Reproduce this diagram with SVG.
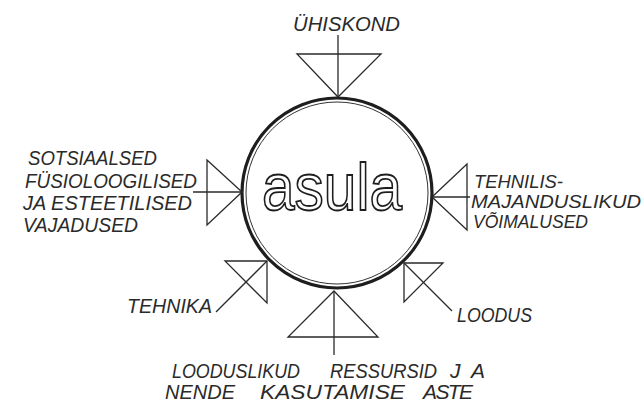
<svg xmlns="http://www.w3.org/2000/svg" width="644" height="403" viewBox="0 0 644 403">
<style>
.ln{fill:none;stroke:#2a2a2a;stroke-width:1.3;stroke-linejoin:miter}
.lbl{font-family:"Liberation Sans",Arial,sans-serif;font-style:italic;font-size:21px;fill:#2a2a2a}
.rt{font-size:19px}
.big{font-family:"Liberation Sans",Arial,sans-serif;font-size:67px;fill:#fff;stroke:#1e1e1e;stroke-width:1.8}
</style>
<rect width="644" height="403" fill="#fff"/>
<g id="asula">
<circle cx="337" cy="193" r="95" fill="#fff" stroke="#1e1e1e" stroke-width="3.2"/>
<circle cx="337" cy="193" r="91" fill="none" stroke="#333" stroke-width="1"/>
<text class="big" x="262" y="210" textLength="140" lengthAdjust="spacingAndGlyphs">asula</text>
</g>
<g id="connectors">
<line class="ln" x1="338" y1="35" x2="338" y2="97"/>
<line class="ln" x1="193" y1="192" x2="242" y2="192"/>
<line class="ln" x1="432" y1="197" x2="470" y2="197"/>
<line class="ln" x1="334" y1="291" x2="334" y2="355"/>
<line class="ln" x1="267" y1="261" x2="216" y2="312"/>
<line class="ln" x1="404" y1="263" x2="452" y2="311"/>
</g>
<g id="uhiskond">
<polygon class="ln" points="297,54 381,54 338,97"/>
<text class="lbl" x="293" y="31" textLength="107" lengthAdjust="spacingAndGlyphs">ÜHISKOND</text>
</g>
<g id="vajadused">
<polygon class="ln" points="207,160 207,225 242,192"/>
<text class="lbl" x="28" y="165" textLength="129" lengthAdjust="spacingAndGlyphs">SOTSIAALSED</text>
<text class="lbl" x="25" y="188" textLength="172" lengthAdjust="spacingAndGlyphs">FÜSIOLOOGILISED</text>
<text class="lbl" x="23" y="210" textLength="169" lengthAdjust="spacingAndGlyphs">JA ESTEETILISED</text>
<text class="lbl" x="23" y="232" textLength="115" lengthAdjust="spacingAndGlyphs">VAJADUSED</text>
</g>
<g id="voimalused">
<polygon class="ln" points="467,164 467,230 432,197"/>
<text class="lbl rt" x="474" y="188" textLength="89" lengthAdjust="spacingAndGlyphs">TEHNILIS-</text>
<text class="lbl rt" x="471" y="208" textLength="170" lengthAdjust="spacingAndGlyphs">MAJANDUSLIKUD</text>
<text class="lbl rt" x="473" y="228" textLength="115" lengthAdjust="spacingAndGlyphs">VÕIMALUSED</text>
</g>
<g id="tehnika">
<polygon class="ln" points="225,261 267,261 267,303"/>
<text class="lbl" x="127" y="313" textLength="85" lengthAdjust="spacingAndGlyphs">TEHNIKA</text>
</g>
<g id="loodus">
<polygon class="ln" points="404,263 443,263 404,302"/>
<text class="lbl" x="457" y="322" textLength="75" lengthAdjust="spacingAndGlyphs">LOODUS</text>
</g>
<g id="ressursid">
<polygon class="ln" points="334,291 378,337 288,337"/>
<text class="lbl" y="378"><tspan x="172" textLength="128" lengthAdjust="spacingAndGlyphs">LOODUSLIKUD</tspan> <tspan x="330" textLength="107" lengthAdjust="spacingAndGlyphs">RESSURSID</tspan> <tspan x="450" textLength="35" lengthAdjust="spacing">JA</tspan></text>
<text class="lbl" y="399"><tspan x="165" textLength="70" lengthAdjust="spacingAndGlyphs">NENDE</tspan> <tspan x="260" textLength="145" lengthAdjust="spacingAndGlyphs">KASUTAMISE</tspan> <tspan x="423" textLength="50" lengthAdjust="spacing">ASTE</tspan></text>
</g>
</svg>
